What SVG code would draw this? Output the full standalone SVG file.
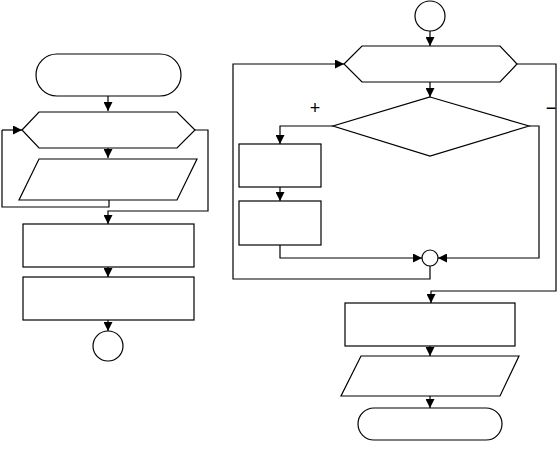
<svg xmlns="http://www.w3.org/2000/svg" width="557" height="452" viewBox="0 0 557 452">
<defs>
<marker id="ah" viewBox="0 0 10 10" refX="10" refY="5" markerWidth="10" markerHeight="9" markerUnits="userSpaceOnUse" orient="auto">
<path d="M0,0 L10,5 L0,10 z" fill="#000"/>
</marker>
</defs>
<style>
.s{fill:#fff;stroke:#000;stroke-width:1.2}
.c{fill:none;stroke:#000;stroke-width:1.2}
.a{marker-end:url(#ah)}
.t{font-family:"Liberation Sans",Arial,sans-serif;font-size:18px;fill:#000}
</style>
<rect width="557" height="452" fill="#fff"/>
<g id="connectors">
<path class="c a" d="M108,96 V111"/>
<path class="c a" d="M108,148 V158"/>
<path class="c a" d="M2,130 H22"/>
<path class="c" d="M2,130 V207 H109 V200"/>
<path class="c a" d="M195,130 H208 V211 H108 V224"/>
<path class="c a" d="M108,267 V277"/>
<path class="c a" d="M108,320 V331"/>
<path class="c a" d="M430,31 V46"/>
<path class="c a" d="M430,82 V97"/>
<path class="c a" d="M333,126 H280 V144"/>
<path class="c a" d="M280,187 V201"/>
<path class="c a" d="M280,245 V258 H422"/>
<path class="c a" d="M529,126 H539 V258 H438"/>
<path class="c a" d="M430,266 V279 H233 V64 H344"/>
<path class="c a" d="M517,64 H556 V291 H431 V303"/>
<path class="c a" d="M430,346 V356"/>
<path class="c a" d="M430,396 V408"/>
</g>
<g id="n1"><rect class="s" x="36" y="54" width="145" height="42" rx="21"/></g>
<g id="n2"><polygon class="s" points="22,130 39,112 177,112 195,130 177,148 39,148"/></g>
<g id="n3"><polygon class="s" points="39,159 197,159 177,200 19,200"/></g>
<g id="n4"><rect class="s" x="23" y="224" width="171" height="43"/></g>
<g id="n5"><rect class="s" x="23" y="277" width="171" height="43"/></g>
<g id="n6"><circle class="s" cx="108" cy="346" r="15"/></g>
<g id="n7"><circle class="s" cx="430" cy="16" r="15"/></g>
<g id="n8"><polygon class="s" points="344,64 362,46 500,46 517,64 500,82 362,82"/></g>
<g id="n9"><polygon class="s" points="430,97 529,126 430,156 333,126"/></g>
<g id="n10"><rect class="s" x="239" y="144" width="82" height="43"/></g>
<g id="n11"><rect class="s" x="239" y="201" width="82" height="44"/></g>
<g id="n12"><circle class="s" cx="430" cy="258" r="8"/></g>
<g id="n13"><rect class="s" x="345" y="303" width="170" height="43"/></g>
<g id="n14"><polygon class="s" points="361,356 519,356 500,396 341,396"/></g>
<g id="n15"><rect class="s" x="358" y="408" width="144" height="32" rx="16"/></g>
<g id="labels">
<text class="t" x="315" y="114" text-anchor="middle">+</text>
<text class="t" x="551" y="114" text-anchor="middle">−</text>
</g>
</svg>
